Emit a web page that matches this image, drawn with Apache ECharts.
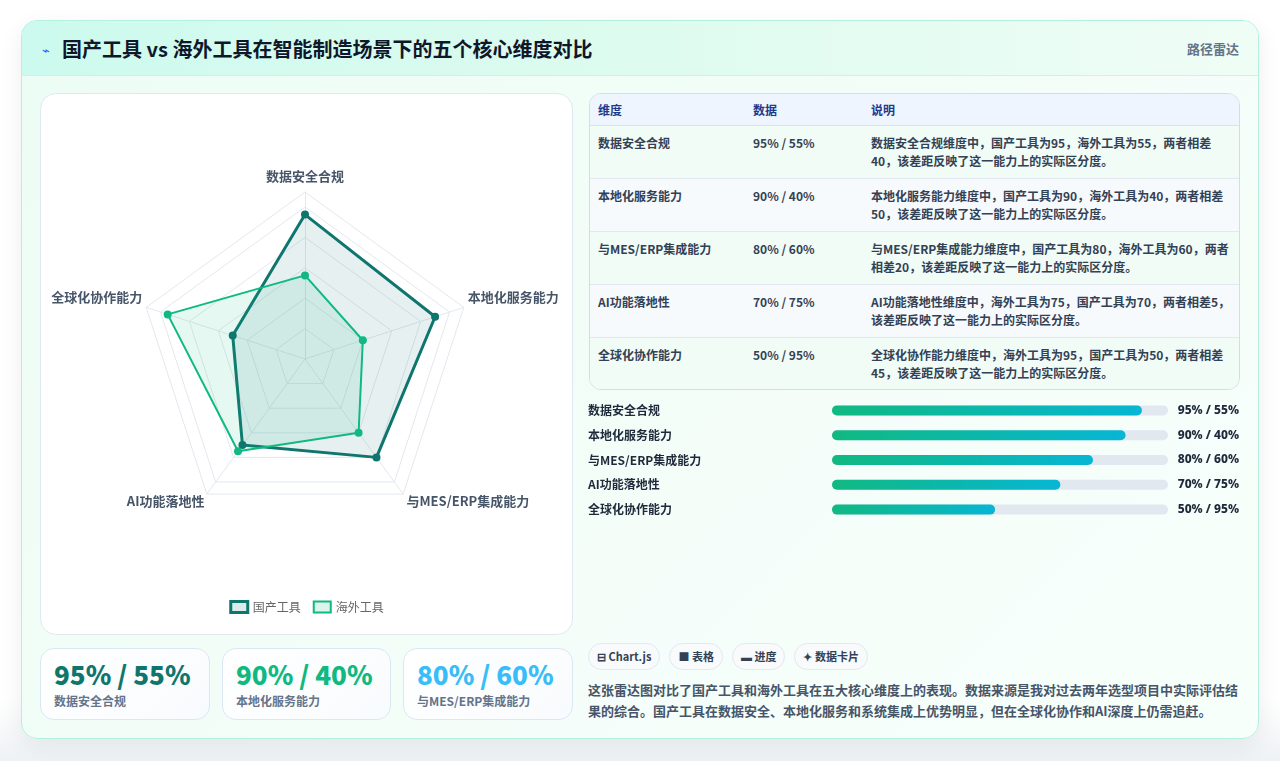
<!DOCTYPE html>
<html><head><meta charset="utf-8">
<script src="https://cdn.jsdelivr.net/npm/echarts@6/dist/echarts.min.js"></script>
<style>
*{box-sizing:border-box;margin:0;padding:0}
html,body{width:1280px;height:761px;overflow:hidden;font-family:"Noto Sans CJK SC","Noto Sans",sans-serif;}
body{background:linear-gradient(180deg,#ffffff 0%,#ffffff 92%,#eef2f5 100%);position:relative}
.abs{position:absolute}
.card{left:21px;top:20px;width:1238px;height:719px;border:1px solid #b4f0de;border-radius:16px;background:linear-gradient(135deg,#ecfdf5 0%,#f3fdf8 45%,#f7fffb 100%);box-shadow:0 8px 24px rgba(15,23,42,0.07)}
.header{left:22px;top:21px;width:1236px;height:55px;border-radius:15px 15px 0 0;background:linear-gradient(90deg,#cdfaee 0%,#dcfbef 45%,#effdf5 100%);border-bottom:1px solid #d6eee6}
.title{left:42px;top:21px;line-height:55px;font-size:20px;font-weight:700;color:#0f172a;white-space:nowrap}
.title .ic{font-size:13px;color:#2563eb;margin-right:12px;font-weight:400;position:relative;top:-2px}
.tag{right:41px;top:21px;line-height:55px;font-size:13px;font-weight:600;color:#64748b}
.chartcard{left:40px;top:93px;width:533px;height:542px;background:#fff;border:1px solid #e2e8f0;border-radius:16px}
#radar{position:absolute;left:0;top:0;width:531px;height:540px}
.kpi{top:648px;height:72px;border:1px solid #dbe7f3;border-radius:14px;background:linear-gradient(135deg,#ffffff 0%,#f8fbfd 100%)}
.kpi .v{position:absolute;left:13px;top:11px;font-size:26px;line-height:28px;font-weight:800;white-space:nowrap}
.kpi .l{position:absolute;left:13px;top:44px;font-size:12px;line-height:16px;font-weight:600;color:#64748b;white-space:nowrap}
.tablewrap{left:589px;top:93px;width:651px;height:297px;border:1px solid #d3dde8;border-radius:12px;overflow:hidden;background:#f3fcf8}
table{border-collapse:separate;border-spacing:0;width:649px;table-layout:fixed;font-size:12px;color:#334155}
th{height:32px;background:#eef5fe;color:#1e3a8a;font-weight:700;text-align:left;padding:0 8px 0 8px;border-bottom:1px solid #d6e2ee}
td{height:53px;padding:8px 8px 0 8px;vertical-align:top;line-height:18px;font-weight:600;border-bottom:1px solid #e2e8f0}
tr:last-child td{border-bottom:none}
tr.even td{background:#f7fafc}
tr.odd td{background:#f1fcf6}
#bars{position:absolute;left:580px;top:395px;width:670px;height:130px}
.pills{left:588px;top:643px;display:flex;gap:9px}
.pill{height:27px;line-height:25px;padding:0 8px;border:1px solid #e2e8f0;border-radius:14px;background:#f8fafc;font-size:11px;font-weight:700;color:#334155;white-space:nowrap}
.desc{left:588px;top:679px;width:656px;font-size:13px;line-height:21px;font-weight:600;color:#475569}
</style></head>
<body>
<div class="abs card"></div>
<div class="abs header"></div>
<div class="abs title"><span class="ic">⌁</span>国产工具 vs 海外工具在智能制造场景下的五个核心维度对比</div>
<div class="abs tag">路径雷达</div>

<div class="abs chartcard"><div id="radar"></div></div>
<div id="kpis"></div>

<div class="abs tablewrap"><table id="tbl"></table></div>
<div id="bars"></div>

<div class="abs pills">
  <div class="pill">⊟ Chart.js</div>
  <div class="pill">■ 表格</div>
  <div class="pill">▬ 进度</div>
  <div class="pill">✦ 数据卡片</div>
</div>
<div class="abs desc">这张雷达图对比了国产工具和海外工具在五大核心维度上的表现。数据来源是我对过去两年选型项目中实际评估结果的综合。国产工具在数据安全、本地化服务和系统集成上优势明显，但在全球化协作和AI深度上仍需追赶。</div>

<script>
// ---- data ----
const dims = ['数据安全合规', '本地化服务能力', '与MES/ERP集成能力', 'AI功能落地性', '全球化协作能力'];
const domestic = [95, 90, 80, 70, 50];
const overseas = [55, 40, 60, 75, 95];
const seriesNames = ['国产工具', '海外工具'];
const tableHeaders = ['维度', '数据', '说明'];
const kpiColors = ['#0f766e', '#10b981', '#38bdf8'];

const pairText = i => domestic[i] + '% / ' + overseas[i] + '%';

// ---- table ----
(function(){
  let html = '<colgroup><col style="width:155px"><col style="width:118px"><col></colgroup>';
  html += '<tr>' + tableHeaders.map(h => '<th>' + h + '</th>').join('') + '</tr>';
  dims.forEach((d, i) => {
    const a = domestic[i], b = overseas[i];
    const note = a >= b
      ? d + '维度中，' + seriesNames[0] + '为' + a + '，' + seriesNames[1] + '为' + b + '，两者相差' + Math.abs(a - b) + '，该差距反映了这一能力上的实际区分度。'
      : d + '维度中，' + seriesNames[1] + '为' + b + '，' + seriesNames[0] + '为' + a + '，两者相差' + Math.abs(a - b) + '，该差距反映了这一能力上的实际区分度。';
    html += '<tr class="' + (i % 2 === 0 ? 'odd' : 'even') + '"><td>' + d + '</td><td>' + pairText(i) + '</td><td>' + note + '</td></tr>';
  });
  document.getElementById('tbl').innerHTML = html;
})();

// ---- kpi cards ----
(function(){
  const lefts = [40, 222, 403], widths = [170, 169, 170];
  let html = '';
  for (let i = 0; i < 3; i++) {
    html += '<div class="abs kpi" style="left:' + lefts[i] + 'px;width:' + widths[i] + 'px"><div class="v" style="color:' + kpiColors[i] + '">' + pairText(i) + '</div><div class="l">' + dims[i] + '</div></div>';
  }
  document.getElementById('kpis').innerHTML = html;
})();

// ---- radar ----
const order = [0, 4, 3, 2, 1]; // clockwise layout
// label placement style per layout slot: top, left, bottom-left, bottom-right, right
const slotStyle = ['top', 'side', 'bl', 'br', 'side'];
const radar = echarts.init(document.getElementById('radar'));
const gridColor = '#e3e8ee';
const nameFont = { color: '#475569', fontSize: 13, fontWeight: 600, fontFamily: 'Noto Sans CJK SC' };
radar.setOption({
  animation: false,
  legend: {
    top: 501, left: 'center', icon: 'rect', itemWidth: 17, itemHeight: 11, itemGap: 12,
    textStyle: { color: '#666', fontSize: 12, fontFamily: 'Noto Sans CJK SC' },
    data: [
      { name: seriesNames[0], itemStyle: { color: 'rgba(15,118,110,0.15)', borderColor: '#0f766e', borderWidth: 3 } },
      { name: seriesNames[1], itemStyle: { color: 'rgba(16,185,129,0.15)', borderColor: '#10b981', borderWidth: 2 } }
    ]
  },
  radar: [
    {
      center: [264, 265], radius: 152, splitNumber: 5, shape: 'polygon',
      indicator: order.map(i => ({ name: dims[i], min: 0, max: 100 })),
      axisName: { show: false },
      splitLine: { lineStyle: { color: gridColor, width: 1 } },
      splitArea: { show: false },
      axisLine: { show: false }, axisTick: { show: false }, axisLabel: { show: false }
    },
    {
      center: [264, 265], radius: 167, splitNumber: 1, shape: 'polygon', nameGap: 4,
      indicator: order.map(i => ({ name: dims[i], min: 0, max: 110 })),
      axisName: Object.assign({}, nameFont, {
        formatter: function (name) {
          const slot = order.indexOf(dims.indexOf(name));
          return '{' + slotStyle[slot] + '|' + name + '}';
        },
        rich: {
          top: Object.assign({}, nameFont, { padding: [0, 0, 5, 0] }),
          side: Object.assign({}, nameFont, { padding: [0, 0, 18, 0] }),
          bl: Object.assign({}, nameFont, { padding: [8, 0, 0, 0] }),
          br: Object.assign({}, nameFont, { padding: [8, 0, 0, 1] })
        }
      }),
      splitLine: { lineStyle: { color: gridColor, width: 1 } },
      splitArea: { show: false },
      axisLine: { lineStyle: { color: gridColor, width: 1 } },
      axisTick: { show: false }, axisLabel: { show: false }
    }
  ],
  series: [{
    type: 'radar', radarIndex: 0, z: 3,
    data: [
      {
        name: seriesNames[0], value: order.map(i => domestic[i]),
        symbol: 'circle', symbolSize: 8,
        itemStyle: { color: '#0f766e' },
        lineStyle: { color: '#0f766e', width: 3 },
        areaStyle: { color: 'rgba(15,118,110,0.15)' }
      },
      {
        name: seriesNames[1], value: order.map(i => overseas[i]),
        symbol: 'circle', symbolSize: 8,
        itemStyle: { color: '#10b981' },
        lineStyle: { color: '#10b981', width: 2 },
        areaStyle: { color: 'rgba(16,185,129,0.15)' }
      }
    ]
  }]
});

// ---- progress bars ----
const bars = echarts.init(document.getElementById('bars'));
bars.setOption({
  animation: false,
  grid: { left: 252, right: 82, top: 3, height: 124 },
  xAxis: { type: 'value', min: 0, max: 103, show: false },
  yAxis: [
    {
      type: 'category', data: dims, inverse: true,
      axisLine: { show: false }, axisTick: { show: false },
      axisLabel: { align: 'left', margin: 244, color: '#1e293b', fontSize: 12, fontWeight: 700, fontFamily: 'Noto Sans CJK SC' }
    },
    {
      type: 'category', data: dims.map((d, i) => pairText(i)), inverse: true, position: 'right',
      axisLine: { show: false }, axisTick: { show: false },
      axisLabel: { align: 'right', margin: 71, color: '#1e293b', fontSize: 12, fontWeight: 800, fontFamily: 'Noto Sans' }
    }
  ],
  series: [{
    type: 'bar', data: domestic, barWidth: 10,
    showBackground: true,
    backgroundStyle: { color: '#e2e8f0', borderRadius: 5 },
    itemStyle: {
      borderRadius: 5,
      color: new echarts.graphic.LinearGradient(0, 0, 1, 0, [
        { offset: 0, color: '#10b981' }, { offset: 1, color: '#06b6d4' }
      ])
    }
  }]
});
</script>
</body></html>
